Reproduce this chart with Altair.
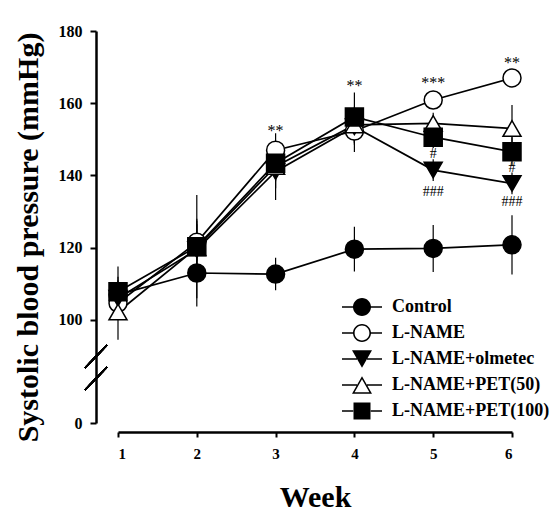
import altair as alt
import pandas as pd

weeks = [1, 2, 3, 4, 5, 6]
series_names = ["Control", "L-NAME", "L-NAME+olmetec", "L-NAME+PET(50)", "L-NAME+PET(100)"]

control = [107.0, 113.0, 112.7, 119.6, 119.8, 120.8]
control_err = [5.0, 9.3, 4.5, 6.2, 6.5, 8.2]
lname = [104.7, 121.5, 147.0, 152.3, 160.9, 167.0]
lname_err = [4.0, 5.0, 4.7, 5.8, 2.5, 2.0]
olmetec = [106.0, 119.5, 141.1, 153.5, 141.5, 137.8]
olmetec_err = [5.0, 8.0, 7.9, 5.0, 3.0, 3.0]
pet50 = [102.2, 120.0, 142.5, 154.0, 154.4, 153.0]
pet50_err = [7.7, 8.0, 6.0, 5.0, 3.0, 6.5]
pet100 = [107.8, 120.3, 143.4, 156.2, 150.6, 146.6]
pet100_err = [7.0, 14.3, 5.0, 6.8, 3.0, 4.0]

star_week = [3, 4, 5, 6]
star_value = [153.1, 165.7, 166.4, 172.0]
star_text = ["**", "**", "***", "**"]
hash_week = [5, 5, 6, 6]
hash_value = [146.0, 135.5, 142.0, 132.7]
hash_text = ["#", "###", "#", "###"]

y_ticks = [0, 100, 120, 140, 160, 180]

means = [control, lname, olmetec, pet50, pet100]
errs = [control_err, lname_err, olmetec_err, pet50_err, pet100_err]
rows = []
for name, m, e in zip(series_names, means, errs):
    for w, v, s in zip(weeks, m, e):
        rows.append({"series": name, "week": w, "value": v, "lo": v - s, "hi": v + s})
df = pd.DataFrame(rows)
stars = pd.DataFrame({"week": star_week, "value": star_value, "text": star_text})
hashes = pd.DataFrame({"week": hash_week, "value": hash_value, "text": hash_text})

FONT = "Liberation Serif"

xs = alt.Scale(domain=[1, 6], range=[22, 416], nice=False, zero=False)
ys = alt.Scale(domain=[0, 90, 180], range=[392, 325.1, 0], nice=False, zero=False)

x_enc = alt.X("week:Q", scale=xs, title="Week",
              axis=alt.Axis(values=weeks, format="d", tickSize=5, tickWidth=2,
                            domainWidth=2.5, labelPadding=9, labelFontSize=15,
                            titlePadding=21, titleFontSize=30))
y_enc = alt.Y("value:Q", scale=ys, title="Systolic blood pressure (mmHg)",
              axis=alt.Axis(values=y_ticks, tickSize=6, tickWidth=2, domainWidth=2.5,
                            labelPadding=8, labelFontSize=16, titlePadding=15,
                            titleFontSize=30, titleY=206))

base = alt.Chart(df)

errbars = base.mark_rule(color="black", strokeWidth=1.2).encode(
    x=x_enc, y=alt.Y("lo:Q", scale=ys), y2="hi:Q"
)

lines = base.mark_line(color="black", strokeWidth=1.7).encode(
    x=x_enc, y=y_enc, detail="series:N", order="week:Q"
)

points = base.mark_point(filled=True, stroke="black", strokeWidth=1.5, opacity=1).encode(
    x=x_enc, y=y_enc,
    shape=alt.Shape("series:N", scale=alt.Scale(domain=series_names,
                    range=["circle", "circle", "triangle-down", "triangle-up", "square"]), legend=None),
    fill=alt.Fill("series:N", scale=alt.Scale(domain=series_names,
                  range=["black", "white", "black", "white", "black"]), legend=None),
    size=alt.Size("series:N", scale=alt.Scale(domain=series_names,
                  range=[324, 324, 400, 400, 324]), legend=None),
)

# legend glyphs: filled paths only (line stubs as thin bars, open markers as rings)
stub_c = "M-2,-0.08L-0.88,-0.08L-0.88,0.08L-2,0.08ZM0.88,-0.08L2,-0.08L2,0.08L0.88,0.08Z"
stub_t = "M-2,-0.08L-0.5,-0.08L-0.5,0.08L-2,0.08ZM0.5,-0.08L2,-0.08L2,0.08L0.5,0.08Z"
circ_out = "M0.9,0A0.9,0.9,0,1,1,-0.9,0A0.9,0.9,0,1,1,0.9,0Z"
circ_in = "M0.74,0A0.74,0.74,0,1,0,-0.74,0A0.74,0.74,0,1,0,0.74,0Z"
filled_circle = stub_c + circ_out
open_circle = stub_c + circ_out + circ_in
square_p = stub_c + "M-0.85,-0.85L0.85,-0.85L0.85,0.85L-0.85,0.85Z"
tdown_p = stub_t + "M-1,-0.866L1,-0.866L0,0.866Z"
tup_p = stub_t + "M0,-0.866L1,0.866L-1,0.866ZM0,-0.566L-0.74,0.716L0.74,0.716Z"

leg = alt.Legend(title=None, orient="none", legendX=256, legendY=266, padding=0,
                 labelFont=FONT, labelFontSize=18, labelFontWeight="bold", labelColor="black",
                 labelOffset=20, rowPadding=7, symbolSize=400, symbolStrokeWidth=0,
                 symbolFillColor="black", symbolOpacity=1, gridAlign="all")

legend_layer = base.transform_filter("false").mark_point(
    filled=True, color="black", strokeWidth=0, size=400, opacity=1).encode(
    x=x_enc, y=y_enc,
    shape=alt.Shape("series:N", scale=alt.Scale(domain=series_names,
                    range=[filled_circle, open_circle, tdown_p, tup_p, square_p]), legend=leg),
)

star_layer = alt.Chart(stars).mark_text(font=FONT, fontSize=16, color="black",
                                        baseline="middle", dy=3).encode(
    x=alt.X("week:Q", scale=xs), y=alt.Y("value:Q", scale=ys), text="text:N")
hash_layer = alt.Chart(hashes).mark_text(font=FONT, fontSize=14, color="black",
                                         baseline="middle").encode(
    x=alt.X("week:Q", scale=xs), y=alt.Y("value:Q", scale=ys), text="text:N")

brk1 = alt.Chart(df).mark_rule(color="black", strokeWidth=1.5).encode(
    x=alt.value(-11), x2=alt.value(11), y=alt.value(337), y2=alt.value(314))
brk2 = alt.Chart(df).mark_rule(color="black", strokeWidth=1.5).encode(
    x=alt.value(-11), x2=alt.value(11), y=alt.value(359), y2=alt.value(336))

chart = alt.layer(errbars, lines, points, legend_layer, star_layer, hash_layer, brk1, brk2).resolve_scale(
    shape="independent"
).properties(
    width=456, height=401,
    autosize=alt.AutoSizeParams(type="none"),
    padding={"left": 88, "top": 23, "right": 0, "bottom": 80},
    background="white",
).configure_view(stroke=None).configure_axis(
    grid=False, labelFont=FONT, labelFontWeight="bold", labelColor="black",
    titleFont=FONT, titleFontWeight="bold", titleColor="black", domainColor="black",
    tickColor="black",
)

chart.save("out.html", embed_options={"renderer": "svg", "actions": False})
